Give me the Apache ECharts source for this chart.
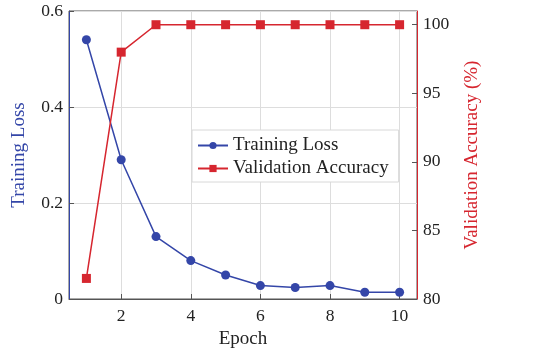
<!DOCTYPE html>
<html><head><meta charset="utf-8">
<script src="https://cdn.jsdelivr.net/npm/echarts@6/dist/echarts.min.js"></script>
<style>html,body{margin:0;padding:0;background:#fff}#c{width:550px;height:351px}</style>
</head><body><div id="c"></div>
<script>
const epochs = [1,2,3,4,5,6,7,8,9,10];
const trainingLoss = [0.54,0.29,0.13,0.08,0.05,0.028,0.024,0.028,0.014,0.014];
const validationAccuracy = [81.5,98.0,100,100,100,100,100,100,100,100];
const xTicks = [2,4,6,8,10];
const FONT = 'Liberation Serif';
const BLUE = '#3446a8', RED = '#d6262f';
const chart = echarts.init(document.getElementById('c'));
chart.setOption({
  animation:false,
  textStyle:{fontFamily:FONT},
  grid:{left:69,right:133,top:11,bottom:52,show:true,borderColor:'#555',borderWidth:1,outerBoundsMode:'none',containLabel:false},
  legend:{
    left:192, top:130, orient:'vertical', itemGap:4, itemWidth:30, itemHeight:9,
    backgroundColor:'#fff', borderColor:'#d8d8d8', borderWidth:1, padding:[6,10,4,5],
    textStyle:{fontFamily:FONT,fontSize:19,color:'#222'},
    data:['Training Loss','Validation Accuracy']
  },
  xAxis:{type:'value',min:0.5,max:10.5,name:'Epoch',nameLocation:'middle',nameGap:30,
    nameTextStyle:{fontFamily:FONT,fontSize:19,color:'#222'},
    axisLine:{lineStyle:{color:'#555'}},
    axisTick:{inside:true,length:5,lineStyle:{color:'#555'},customValues:xTicks},
    axisLabel:{fontFamily:FONT,fontSize:17.5,color:'#222',margin:8,customValues:xTicks},
    splitLine:{show:true,lineStyle:{color:'#ddd'}}},
  yAxis:[
    {type:'value',min:0,max:0.6,interval:0.2,position:'left',name:'Training Loss',nameLocation:'middle',nameGap:40,
     nameTextStyle:{fontFamily:FONT,fontSize:19,color:BLUE},
     axisLine:{show:true,lineStyle:{color:BLUE}},
     axisTick:{show:true,inside:true,length:5,lineStyle:{color:'#555'}},
     axisLabel:{fontFamily:FONT,fontSize:17.5,color:'#222',margin:6},
     splitLine:{show:true,lineStyle:{color:'#ddd'}}},
    {type:'value',min:80,max:101,interval:5,position:'right',name:'Validation Accuracy (%)',nameLocation:'middle',nameGap:46,
     nameRotate:90,
     nameTextStyle:{fontFamily:FONT,fontSize:19,color:RED},
     axisLine:{show:true,lineStyle:{color:RED}},
     axisTick:{show:true,inside:true,length:5,lineStyle:{color:'#555'}},
     axisLabel:{fontFamily:FONT,fontSize:17.5,color:'#222',margin:6,showMaxLabel:false},
     splitLine:{show:false}}
  ],
  series:[
    {name:'Training Loss',type:'line',yAxisIndex:0,data:epochs.map((e,i)=>[e,trainingLoss[i]]),
     symbol:'circle',symbolSize:9,lineStyle:{color:BLUE,width:1.5},itemStyle:{color:BLUE}},
    {name:'Validation Accuracy',type:'line',yAxisIndex:1,data:epochs.map((e,i)=>[e,validationAccuracy[i]]),
     symbol:'rect',symbolSize:9,lineStyle:{color:RED,width:1.5},itemStyle:{color:RED}}
  ]
});
</script></body></html>
